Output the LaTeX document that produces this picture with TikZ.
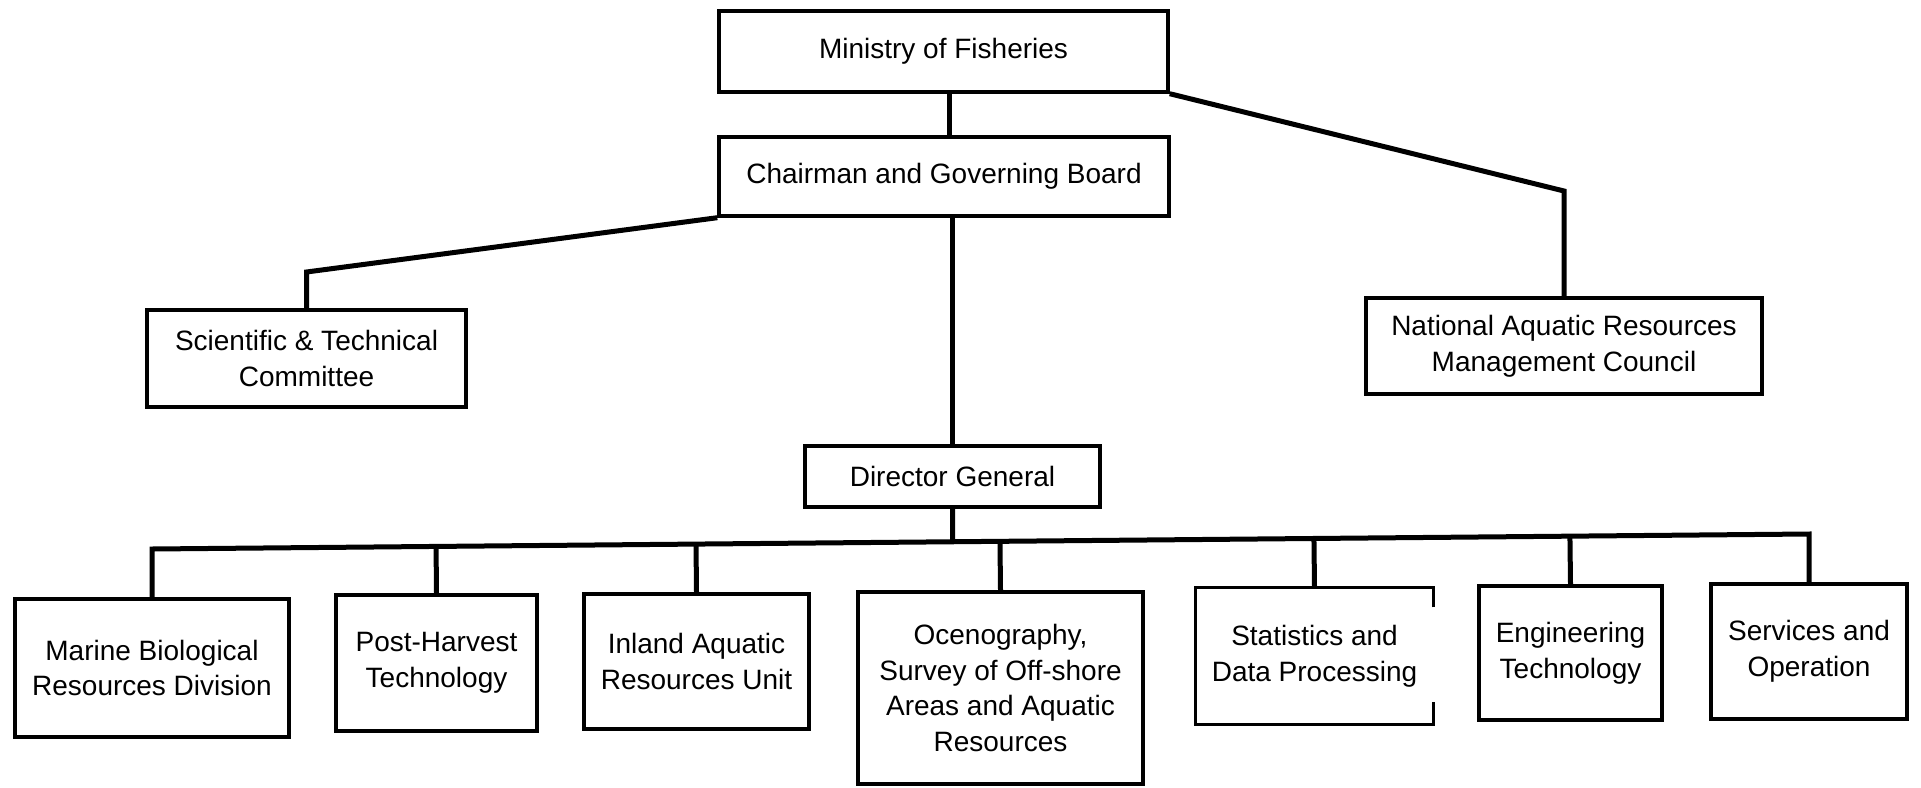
\documentclass[tikz,border=0pt]{standalone}
\usepackage{fontspec}
\setmainfont{Liberation Sans}
\usetikzlibrary{calc}
\tikzset{
  box/.style={draw, line width=1.7pt, inner sep=0pt, align=center,
    font=\fontsize{14}{17.8}\selectfont, line join=miter},
  openbox/.style={box, draw=none},
  conn/.style={line width=2.5pt, line join=miter},
}
\begin{document}
\begin{tikzpicture}[x=0.5pt,y=-0.5pt]
\fill[white] (0,0) rectangle (1921,787);
\useasboundingbox (0,0) rectangle (1921,787);
% top levels
\node[box, minimum width=224.5pt, minimum height=40.5pt] (min) at (943.5,51.5) {Ministry of Fisheries};
\node[box, minimum width=225pt, minimum height=39.5pt] (chair) at (944,176.5) {Chairman and Governing Board};
\node[box, minimum width=159.5pt, minimum height=48.5pt] (stc) at (306.5,358.5) {Scientific \& Technical\\Committee};
\node[box, minimum width=198pt, minimum height=48pt] (narmc) at (1564,346) {National Aquatic Resources\\Management Council};
\node[box, minimum width=147.5pt, minimum height=30.5pt] (dg) at (952.5,476.5) {Director General};
% bottom row
\node[box, minimum width=137pt, minimum height=69pt] (mar) at (152,668) {Marine Biological\\Resources Division};
\node[box, minimum width=100.5pt, minimum height=68pt] (post) at (436.5,663) {Post-Harvest\\Technology};
\node[box, minimum width=112.5pt, minimum height=67.5pt] (inl) at (696.5,661.5) {Inland Aquatic\\Resources Unit};
\node[box, minimum width=142.5pt, minimum height=96pt] (oce) at (1000.5,688) {Ocenography,\\Survey of Off-shore\\Areas and Aquatic\\Resources};
\node[openbox, minimum width=117.5pt, minimum height=67pt] (stat) at (1314.5,656) {Statistics and\\Data Processing};
\node[box, minimum width=91.5pt, minimum height=67pt] (eng) at (1570.5,653) {Engineering\\Technology};
\node[box, minimum width=98pt, minimum height=67.5pt] (serv) at (1809,651.5) {Services and\\Operation};
% outline of the statistics box, with the gap in its right side
\draw[line width=1.7pt, line join=miter] ([yshift=-10pt]stat.north east) -- (stat.north east) -- (stat.north west)
  -- (stat.south west) -- (stat.south east) -- ([yshift=11.5pt]stat.south east);
% connectors
\coordinate (kR) at (1564,191);
\coordinate (kL) at (306.5,272);
\coordinate (busL) at (152,549);
\coordinate (busR) at (1809,534);
\draw[conn] ([xshift=2.75pt]min.south) -- ([xshift=2.75pt]min.south |- chair.north);
\draw[conn] (min.south east) -- (kR) -- (narmc.north);
\draw[conn] (chair.south west) -- (kL) -- (stc.north);
\draw[conn] (dg.north |- chair.south) -- (dg.north);
\draw[conn] (dg.south) -- ($(busL)!(dg.south)!(busR)$);
\draw[conn] (mar.north) -- (busL) -- (busR) -- (serv.north);
\draw[conn] (post.north) -- ($(busL)!(post.north)!(busR)$);
\draw[conn] (inl.north) -- ($(busL)!(inl.north)!(busR)$);
\draw[conn] (oce.north) -- ($(busL)!(oce.north)!(busR)$);
\draw[conn] (stat.north) -- ($(busL)!(stat.north)!(busR)$);
\draw[conn] (eng.north) -- ($(busL)!(eng.north)!(busR)$);
\end{tikzpicture}
\end{document}
